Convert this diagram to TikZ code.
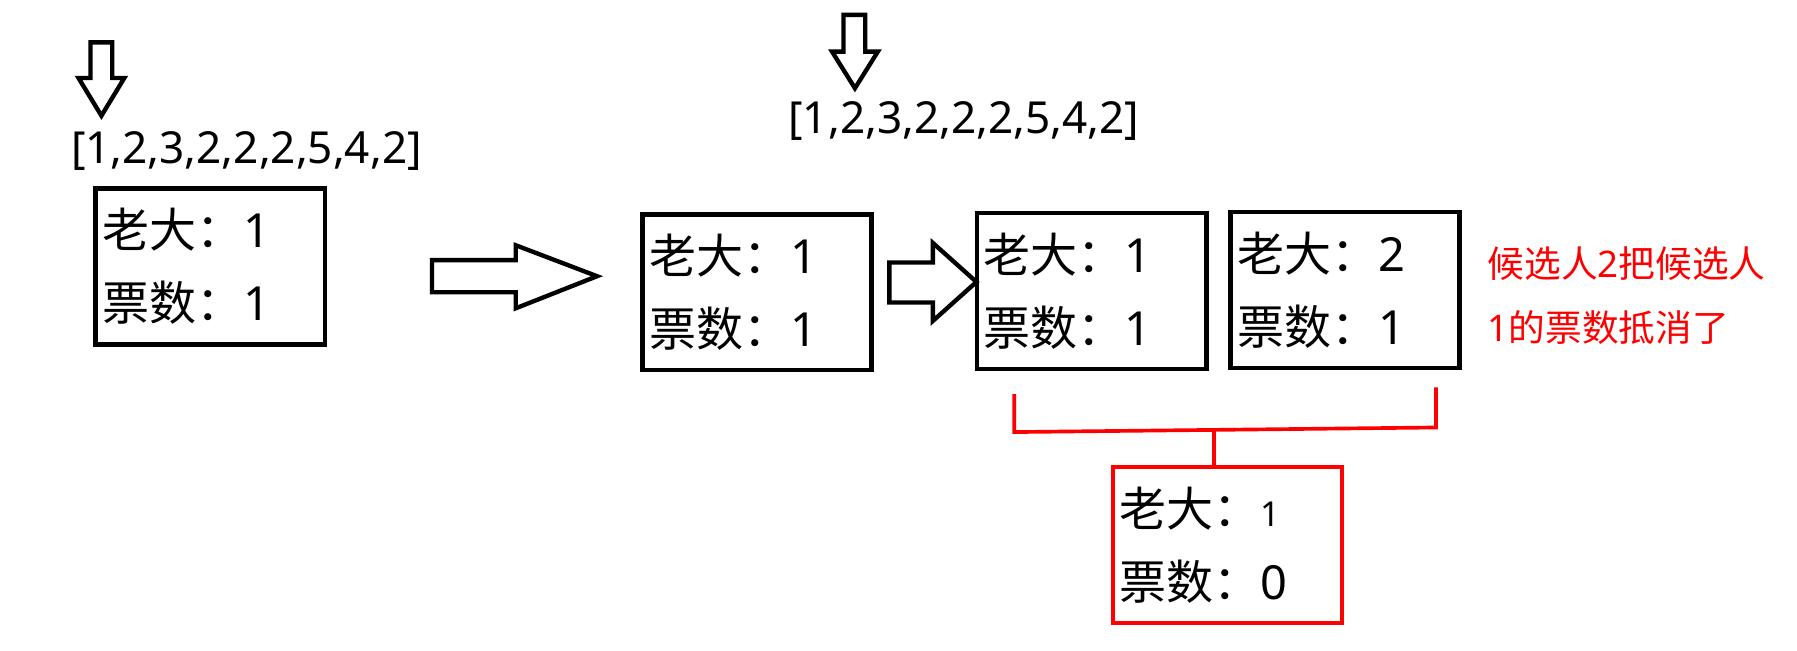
\documentclass[tikz,border=0pt]{standalone}
\usepackage{fontspec}
\setmainfont{Noto Sans CJK SC}
\newfontfamily\chiffres{Noto Sans}
\usetikzlibrary{positioning}
\definecolor{rouge}{RGB}{255,0,0}
\newcommand{\nb}[1]{{\chiffres #1}}

\begin{document}
\begin{tikzpicture}[x=1pt, y=-1pt,
  case/.style={draw, line width=4pt, minimum width=200pt, minimum height=136pt, text width=188pt, inner xsep=6pt, align=left, font=\fontsize{41}{64}\selectfont},
  tableau/.style={inner sep=0pt, font=\chiffres\fontsize{38.5}{46}\selectfont},
  fleche/.style={draw, line width=3.8pt, line join=miter, fill=white},
  trait/.style={draw=rouge, line width=3.2pt}]
\useasboundingbox (0,0) rectangle (1568,568);
\node[tableau] (t1) at (215,132) {[1,2,3,2,2,2,5,4,2]};
\node[tableau] (t2) at (841,106) {[1,2,3,2,2,2,5,4,2]};
\node[case] (b1) at (183.5,232.5) {老大：\nb{1}\\票数：\nb{1}};
\node[case] (b2) at (660.5,255) {老大：\nb{1}\\票数：\nb{1}};
\node[case] (b3) at (952.5,254) {老大：\nb{1}\\票数：\nb{1}};
\node[case] (b4) at (1173.5,253) {老大：\nb{2}\\票数：\nb{1}};
\node[case, draw=rouge] (b5) at (1071,475.5) {老大：{\chiffres\fontsize{30}{30}\selectfont 1}\\票数：\nb{0}};
\node[anchor=west, align=left, inner sep=0pt, text=rouge, font=\fontsize{32}{56}\selectfont] (note) at (1298,258) {候选人\nb{2}把候选人\\\nb{1}的票数抵消了};
\draw[fleche] (79,37) -- (98,37) -- (98,68) -- (108.5,68) -- (88.5,101) -- (68.5,68) -- (79,68) -- cycle;
\draw[fleche] (736,13) -- (755,13) -- (755,45) -- (766,45) -- (746,77) -- (726,45) -- (736,45) -- cycle;
\draw[fleche] (377,227) -- (450,227) -- (450,214) -- (521,241) -- (450,269) -- (450,255) -- (377,255) -- cycle;
\draw[fleche] (776,229) -- (814,229) -- (814,212) -- (852,246) -- (814,280) -- (814,264) -- (776,264) -- cycle;
\coordinate (g) at (885,344);
\coordinate (d) at (1253,338);
\coordinate (m) at (1059,375);
\draw[trait] (g) -- (885,377) -- (1253,373) -- (d);
\draw[trait] (m) -- (b5.north -| m);
\end{tikzpicture}
\end{document}
